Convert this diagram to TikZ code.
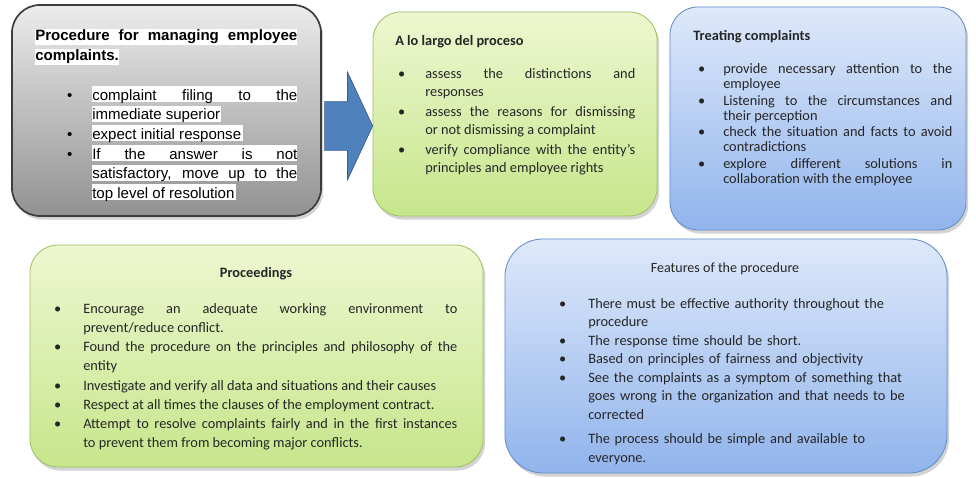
\documentclass[tikz,border=0pt]{standalone}
\usepackage{fontspec}
\setmainfont{Carlito}[WordSpace={1,1,0}]
\newfontfamily\arialfont{Liberation Sans}[WordSpace={1,1,0}]
\usepackage{enumitem}
\usetikzlibrary{shapes.arrows,shadows}
\definecolor{grayhi}{RGB}{236,236,236}
\definecolor{graylo}{RGB}{145,145,145}
\definecolor{grayline}{RGB}{60,60,60}
\definecolor{greenhi}{RGB}{238,247,208}
\definecolor{greenlo}{RGB}{198,230,140}
\definecolor{greenline}{RGB}{160,192,100}
\definecolor{bluehi}{RGB}{222,233,250}
\definecolor{bluelo}{RGB}{145,180,236}
\definecolor{blueline}{RGB}{100,140,200}
\definecolor{arrowfill}{RGB}{79,129,189}
\definecolor{arrowline}{RGB}{56,93,138}
\hyphenpenalty=10000 \exhyphenpenalty=10000 \tolerance=10000
\newlist{pts}{itemize}{1}
\setlist[pts]{label=\textbullet, nosep, labelsep=0.5cm}

\begin{document}
\begin{tikzpicture}[x=0.025cm, y=-0.025cm,
  panel/.style={rectangle, rounded corners=0.7cm, drop shadow={shadow xshift=1.5pt, shadow yshift=-2.5pt, opacity=0.35}},
  graypanel/.style={panel, draw=grayline, line width=1.2pt, top color=grayhi, bottom color=graylo},
  greenpanel/.style={panel, draw=greenline, line width=0.6pt, top color=greenhi, bottom color=greenlo},
  bluepanel/.style={panel, draw=blueline, line width=0.6pt, top color=bluehi, bottom color=bluelo},
  heading/.style={anchor=base west, inner sep=0pt, text=black!85, font=\bfseries\fontsize{10.2pt}{13pt}\selectfont},
  points/.style={anchor=base west, inner sep=0pt, align=justify, text=black!85},
  hlband/.style={fill=white}]
\useasboundingbox (0,0) rectangle (976,478);
\node[graypanel, minimum width=7.725cm, minimum height=5.275cm] (procbox) at (166.5,110.5) {};
\node[greenpanel, minimum width=7.1cm, minimum height=5.1cm] (largobox) at (515,114) {};
\node[bluepanel, minimum width=7.4cm, minimum height=5.575cm] (treatbox) at (818,118.5) {};
\node[greenpanel, minimum width=11.325cm, minimum height=5.55cm] (proceedbox) at (256.5,356) {};
\node[bluepanel, rounded corners=0.95cm, minimum width=11.05cm, minimum height=5.85cm] (featbox) at (726,356) {};
\node[single arrow, fill=arrowfill, draw=arrowline, line width=0.5pt, minimum height=1.2cm, inner xsep=0pt, inner ysep=0.6cm,
  single arrow head extend=0.7375cm, single arrow tip angle=130, anchor=tip] (flow) at (373,126) {};
\foreach \xa/\xb/\yb in {35/297/41, 35/119/60.7, 92/297/98, 92/221/117.7, 92/243/137.4, 92/297/157.1, 92/297/176.8, 92/236/196.5}
  \fill[hlband] (\xa,{\yb-12}) rectangle (\xb,{\yb+4});
\node[points, text=black, text width=6.55cm, font=\arialfont\bfseries\fontsize{10.7pt}{14pt}\selectfont] (proctitle) at (35,41)
  {Procedure for managing employee complaints.};
\node[points, text=black, text width=6.55cm, font=\arialfont\fontsize{10.7pt}{14pt}\selectfont] (procpts) at (35,80.5) {\begin{pts}[leftmargin=1.425cm]
  \item complaint filing to the\linebreak immediate superior
  \item expect initial response
  \item If the answer is not\linebreak satisfactory, move up to the\linebreak top level of resolution
\end{pts}};
\node[heading] (largotitle) at (395,46) {A lo largo del proceso};
\node[points, text width=6.0cm, font=\fontsize{10.2pt}{13.2pt}\selectfont] (largopts) at (395,59.5) {\begin{pts}[leftmargin=0.75cm, itemsep=0.7pt]
  \item assess the distinctions and\linebreak responses
  \item assess the reasons for dismissing\linebreak or not dismissing a complaint
  \item verify compliance with the entity's\linebreak principles and employee rights
\end{pts}};
\node[heading] (treattitle) at (693,41) {Treating complaints};
\node[points, text width=6.475cm, font=\fontsize{10.2pt}{10.8pt}\selectfont] (treatpts) at (693,58.5) {\begin{pts}[leftmargin=0.75cm, labelsep=0.45cm, itemsep=0.8pt]
  \item provide necessary attention to the\linebreak employee
  \item Listening to the circumstances and\linebreak their perception
  \item check the situation and facts to avoid\linebreak contradictions
  \item explore different solutions in\linebreak collaboration with the employee
\end{pts}};
\node[heading, anchor=base] (proceedtitle) at (256,277.5) {Proceedings};
\node[points, text width=10.1cm, font=\fontsize{10.2pt}{13.6pt}\selectfont] (proceedpts) at (53,294.5) {\begin{pts}[leftmargin=0.75cm, labelsep=0.55cm]
  \item Encourage an adequate working environment to\linebreak prevent/reduce conflict.
  \item Found the procedure on the principles and philosophy of the\linebreak entity
  \item Investigate and verify all data and situations and their causes
  \item Respect at all times the clauses of the employment contract.
  \item Attempt to resolve complaints fairly and in the first instances\linebreak to prevent them from becoming major conflicts.
\end{pts}};
\node[heading, anchor=base, font=\mdseries] (feattitle) at (725,272.5) {Features of the procedure};
\node[points, align=left, text width=8.8cm, font=\fontsize{10.2pt}{13.2pt}\selectfont] (featpts) at (558,289.5) {\begin{pts}[leftmargin=0.75cm, labelsep=0.55cm]
  \item There must be effective authority throughout the\\ procedure
  \item The response time should be short.
  \item Based on principles of fairness and objectivity
  \item See the complaints as a symptom of something that\\ goes wrong in the organization and that needs to be\\ corrected
  \vspace{4pt}
  \item The process should be simple and available to\\ everyone.
\end{pts}};
\end{tikzpicture}
\end{document}
